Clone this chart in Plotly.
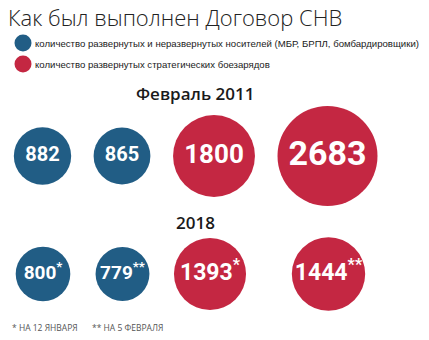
import plotly.graph_objects as go

# --- data -------------------------------------------------------------
periods = ["Февраль 2011", "2018"]
carriers = [[882, 865], [800, 779]]          # deployed + non-deployed launchers
warheads = [[1800, 2683], [1393, 1444]]      # deployed strategic warheads
marks = [["", ""], ["*", "**"]]              # footnote marks per column
footnotes = ["* НА 12 ЯНВАРЯ", "** НА 5 ФЕВРАЛЯ"]
legend_labels = [
    "количество развернутых и неразвернутых носителей (МБР, БРПЛ, бомбардировщики)",
    "количество развернутых стратегических боезарядов",
]
title = "Как был выполнен Договор СНВ"

# --- style / layout ---------------------------------------------------
W, H = 429, 340
BLUE = "#215d85"
RED = "#c42742"
MAX_DIAM = 100  # diameter of the largest bubble, px
max_val = max(max(r) for r in carriers + warheads)
sizeref = 2.0 * max_val / MAX_DIAM ** 2

row_y = [156, 274]
heading_y = [93, 222]
col_x = [[42.5, 122, 214, 327.5], [43, 122.5, 210, 328.5]]
label_sizes = [[20, 20, 26, 34], [19, 19, 23, 23]]
label_font = "Roboto, sans-serif"

fig = go.Figure()

for r, period in enumerate(periods):
    vals = carriers[r] + warheads[r]
    colors = [BLUE] * len(carriers[r]) + [RED] * len(warheads[r])
    sfx = marks[r] + marks[r]
    texts = [f"{v}<sup>{s}</sup>" if s else f"{v}" for v, s in zip(vals, sfx)]
    fig.add_trace(go.Scatter(
        x=col_x[r], y=[row_y[r]] * len(vals),
        mode="markers+text",
        text=texts,
        textposition="middle center",
        textfont=dict(family=label_font, color="white", size=label_sizes[r], weight="bold"),
        marker=dict(size=vals, sizemode="area", sizeref=sizeref,
                    color=colors, line=dict(width=0), opacity=1),
        hoverinfo="skip", showlegend=False, cliponaxis=False,
    ))
    fig.add_annotation(x=195, y=heading_y[r], text=period, showarrow=False,
                       xanchor="center", yanchor="middle",
                       font=dict(family="Open Sans, sans-serif", size=17, color="#1a1a1a",
                                 weight=600))

# legend swatches
leg_y = [43, 64]
fig.add_trace(go.Scatter(
    x=[23, 23], y=leg_y, mode="markers",
    marker=dict(size=17, color=[BLUE, RED], line=dict(width=0)),
    hoverinfo="skip", showlegend=False, cliponaxis=False,
))
for y, lab in zip(leg_y, legend_labels):
    fig.add_annotation(x=33, y=y, text=lab, showarrow=False, xanchor="left", yanchor="middle",
                       font=dict(family="Liberation Sans, sans-serif", size=9.6, color="#1a1a1a"))

# title
fig.add_annotation(x=6, y=17, text=title, showarrow=False, xanchor="left", yanchor="middle",
                   font=dict(family="Open Sans, sans-serif", size=22, color="#222", weight=300))

# footnotes
for x, t in zip([10, 90], footnotes):
    fig.add_annotation(x=x, y=327, text=t, showarrow=False, xanchor="left", yanchor="middle",
                       font=dict(family="Open Sans, sans-serif", size=8.5, color="#555"))

fig.update_layout(
    width=W, height=H,
    margin=dict(l=0, r=0, t=0, b=0),
    paper_bgcolor="white", plot_bgcolor="white",
    xaxis=dict(range=[0, W], visible=False, fixedrange=True),
    yaxis=dict(range=[H, 0], visible=False, fixedrange=True),
)

fig.write_html("out.html", config={"displayModeBar": False})
